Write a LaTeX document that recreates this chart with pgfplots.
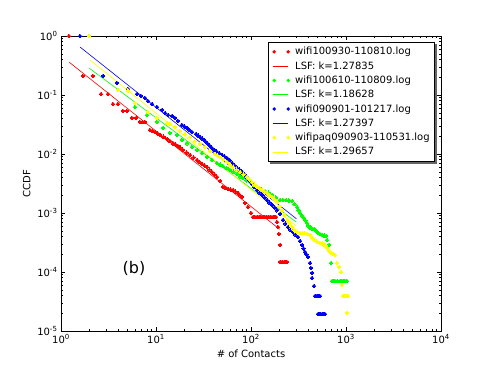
\documentclass[border=0pt]{standalone}
\usepackage{fontspec}
\setmainfont{DejaVu Sans}
\usepackage{pgfplots}
\pgfplotsset{compat=1.18}
\pgfdeclarelayer{background}
\pgfsetlayers{background,main}

\definecolor{cred}{RGB}{255,0,0}
\definecolor{cgreen}{RGB}{0,255,0}
\definecolor{cblue}{RGB}{0,0,255}
\definecolor{cyellow}{RGB}{255,255,0}

\pgfplotsset{
  dots/.style={only marks, mark=*, mark size=1.9pt, color=#1,
    mark options={draw=#1, fill=#1, line width=0pt},
    legend image code/.code={
      \fill[#1, draw=none] (3pt,0pt) circle[radius=1.9pt] (17pt,0pt) circle[radius=1.9pt];
      \path[draw=none] (0pt,0pt) (22pt,0pt);}},
  fit/.style={no marks, color=#1, line width=0.6pt,
    legend image code/.code={
      \draw[#1, line width=0.6pt] (2pt,0pt) -- (17pt,0pt);
      \path[draw=none] (0pt,0pt) (22pt,0pt);}},
}

\begin{document}
\begin{tikzpicture}
\path[use as bounding box] (-61pt,-37pt) rectangle (430pt,331pt);
\begin{axis}[
    xmode=log, ymode=log,
    scale only axis,
    width=380pt, height=295pt,
    xmin=1, xmax=1e4, ymin=1e-5, ymax=1,
    xtick={1,10,100,1000,10000},
    xticklabels={10\textsuperscript{0},10\textsuperscript{1},10\textsuperscript{2},10\textsuperscript{3},10\textsuperscript{4}},
    ytick={1e-5,1e-4,1e-3,1e-2,1e-1,1},
    yticklabels={10\textsuperscript{-5},10\textsuperscript{-4},10\textsuperscript{-3},10\textsuperscript{-2},10\textsuperscript{-1},10\textsuperscript{0}},
    tick align=inside,
    major tick length=4pt, minor tick length=2pt,
    tick style={black, line width=0.5pt},
    axis line style={line width=0.8pt},
    ticklabel style={font=\fontsize{10}{12}\selectfont},
    label style={font=\fontsize{10}{12}\selectfont},
    xlabel={\# of Contacts},
    ylabel={CCDF},
    legend cell align=left,
    legend style={at={(rel axis cs:1,1)}, anchor=north east, xshift=-6pt, yshift=-6pt,
      name=leg, draw=black, line width=0.6pt, fill=white,
      font=\fontsize{10}{12}\selectfont, row sep=1.2pt, inner xsep=3pt, inner ysep=3pt},
]
% wifi100930-110810
\addplot[dots=cred] coordinates {
(1.214,1.0) (1.704,0.210) (2.172,0.210) (2.637,0.104) (3.124,0.104)
(3.527,0.0704) (3.981,0.0704) (4.494,0.0536) (4.951,0.0536) (5.589,0.0408)
(6.160,0.0408) (6.783,0.0349) (7.2,0.0349) (7.658,0.0349) (8.645,0.0255) (9.2,0.0245) (9.761,0.0236)
(10.4,0.0222) (11.02,0.0210) (12.0,0.0195) (13.06,0.0180) (14.0,0.0166) (15.10,0.0153) (16.0,0.0145) (17.04,0.0137) (18.1,0.0127) (19.24,0.0117)
(21.0,0.0106) (22.80,0.0096) (24.8,0.0087) (27.02,0.0079) (28.7,0.0073) (30.50,0.00677) (32.4,0.0064) (34.43,0.00602) (36.6,0.0054) (38.86,0.00495)
(41.3,0.0045) (43.86,0.00407) (47.18,0.00349) (50.73,0.00276) (54.0,0.00265) (57.28,0.00255) (61.0,0.0025) (64.66,0.00245)
(68.7,0.0023) (72.99,0.00218) (76.6,0.0020) (80.41,0.00187) (86.46,0.00148) (92.98,0.00126) (100,0.00100)
(105.0,0.000855) (110.0,0.000855) (115.7,0.000855) (121.5,0.000855) (127.4,0.000855) (134.0,0.000855) (140.4,0.000855) (147.0,0.000855) (154.7,0.000855)
(162.0,0.000855) (170.5,0.000855) (177.0,0.000855) (183.3,0.000855) (187.8,0.000704) (192.4,0.000579) (197.1,0.000441)
(202.0,0.000287) (202.0,0.000148) (212.0,0.000148) (222.6,0.000148) (231.0,0.000148) (239.3,0.000148)
};
\addplot[fit=cred] coordinates {(1.214,0.362) (200,5.31e-4)};
% wifi100610-110809
\addplot[dots=cgreen] coordinates {
(1.971,1.0) (3.981,0.1216) (6.008,0.0626) (8.041,0.0458) (10.24,0.0349)
(11.85,0.0276) (14.04,0.0227) (16.64,0.0210) (18.78,0.0173) (21.20,0.0153)
(23.93,0.0131) (27.02,0.0117) (30.50,0.0104) (34.43,0.0089) (38.86,0.0079)
(43.86,0.00703) (47.2,0.0066) (50.73,0.00626) (55.2,0.0058) (60.11,0.00536) (65.4,0.0050) (71.24,0.00458) (76.6,0.0042) (82.37,0.00392)
(89.7,0.0036) (97.61,0.00335) (106.3,0.0030) (115.7,0.00276) (127.5,0.00255) (140.4,0.00236) (153.0,0.0022) (166.4,0.00202) (183.0,0.00183) (202.0,0.00166)
(217.0,0.00166) (233.6,0.00166) (251.0,0.00163) (270.2,0.00160) (287.0,0.00142) (305.0,0.00126) (316.0,0.00112) (328.0,0.00100) (344.0,0.00091) (361.3,0.000822)
(374.0,0.00075) (388.6,0.000677) (402.0,0.00061) (417.9,0.000557) (438.0,0.000546) (460.5,0.000536) (483.0,0.0005) (507.4,0.000458) (532.0,0.00044) (559.0,0.000424)
(587.0,0.000415) (616.0,0.000408) (631.0,0.000348) (662.5,0.000287) (695.3,0.000142) (712.4,0.0000703)
(740.0,0.0000703) (765.8,0.0000703) (815.0,0.0000703) (864.8,0.0000703) (897.0,0.0000703) (930.0,0.0000703) (976.0,0.0000703) (1024.5,0.0000703)
};
\addplot[fit=cgreen] coordinates {(1.971,0.287) (300,7.0e-4)};
% wifi090901-101217
\addplot[dots=cblue] coordinates {
(1.585,1.0) (2.768,0.210) (3.886,0.160) (5.073,0.126) (6.310,0.104)
(6.952,0.0962) (7.658,0.0889) (8.236,0.0791) (9.077,0.0704) (10.24,0.0626)
(11.57,0.0557) (12.44,0.0495) (13.38,0.0458) (14.74,0.0441) (15.85,0.0408)
(17.04,0.0363) (18.78,0.0310) (20.0,0.0292) (21.20,0.0276) (22.5,0.0255) (23.93,0.0236) (26.37,0.0218)
(27.7,0.0205) (29.06,0.0194) (30.5,0.0183) (32.02,0.0173) (33.6,0.0160) (35.27,0.0148) (37.0,0.0137) (38.86,0.0126) (41.3,0.0117) (43.86,0.0108)
(46.6,0.0102) (49.52,0.0096) (52.6,0.0091) (55.89,0.00855) (59.4,0.0078) (63.10,0.00703) (67.0,0.0064) (71.24,0.00579) (75.7,0.0054) (80.41,0.00495)
(85.4,0.0045) (90.77,0.00407) (96.4,0.0036) (102.4,0.00310) (108.9,0.00275) (115.7,0.00245) (123.0,0.0022) (130.6,0.00202) (138.7,0.00183) (147.4,0.00166)
(156.6,0.0015) (166.4,0.00137) (176.8,0.00124) (187.8,0.00112) (202.0,0.000962) (217.2,0.000761) (230.0,0.00066) (245.2,0.000579)
(261.0,0.00052) (276.8,0.000476) (294.0,0.00043) (312.4,0.000392) (328.0,0.000335) (344.3,0.000287) (357.0,0.00025) (370.2,0.000218)
(384.0,0.000198) (398.1,0.000180) (417.9,0.000142) (428.1,0.000117) (438.7,0.0000962) (438.7,0.0000791)
(460.5,0.0000579) (471.8,0.0000392) (483.0,0.0000392) (495.2,0.0000392) (513.0,0.0000392) (532.5,0.0000392)
(507.4,0.0000194) (520.0,0.0000194) (533.0,0.0000194) (559.0,0.0000194) (580.0,0.0000194) (601.0,0.0000194)
};
\addplot[fit=cblue] coordinates {(1.585,0.651) (300,8.0e-4)};
% wifipaq090903-110531
\addplot[dots=cyellow] coordinates {
(1.971,1.0) (3.981,0.1216) (5.073,0.120) (6.008,0.0732) (8.236,0.0515)
(10.24,0.0408) (13.06,0.0335) (14.04,0.0322) (15.85,0.0287) (17.89,0.0245)
(20.20,0.0218) (22.80,0.0194) (25.74,0.0166) (29.06,0.0148) (32.80,0.0131)
(37.02,0.01125) (41.80,0.0100) (44.4,0.0094) (47.18,0.0089) (51.3,0.0081) (55.89,0.00732) (60.1,0.0066) (64.66,0.00602)
(70.4,0.0054) (76.61,0.00495) (83.4,0.0045) (90.77,0.00407) (96.4,0.0037) (102.4,0.00335) (108.9,0.0030) (115.7,0.00276) (123.0,0.0026) (130.6,0.00245)
(138.7,0.0023) (147.4,0.00218) (156.6,0.002) (166.4,0.00187) (176.8,0.0017) (187.8,0.00154) (199.5,0.0013) (212.0,0.00112) (225.0,0.00092) (239.3,0.000761)
(251.0,0.00068) (263.8,0.000602) (277.0,0.00055) (290.6,0.000495) (309.0,0.00047) (328.0,0.000458) (348.0,0.000458) (370.2,0.000458) (393.0,0.00044) (417.9,0.000424)
(438.0,0.00038) (460.5,0.000348) (495.0,0.00033) (532.5,0.000310) (559.0,0.000304) (586.6,0.000298) (608.0,0.00028) (631.0,0.000255) (662.0,0.00023) (695.3,0.000210)
(730.0,0.000202) (765.8,0.000194) (804.0,0.000142) (844.0,0.000122) (886.2,0.000100) (907.8,0.0000602)
(930.0,0.0000392) (953.0,0.0000392) (976.1,0.0000392) (1012.0,0.0000392) (1049.8,0.0000392) (1024.5,0.0000202)
};
\addplot[fit=cyellow] coordinates {(2.020,0.392) (300,6.0e-4)};
\legend{wifi100930-110810.log, LSF: k=1.27835, wifi100610-110809.log, LSF: k=1.18628,
  wifi090901-101217.log, LSF: k=1.27397, wifipaq090903-110531.log, LSF: k=1.29657}
\node[font=\fontsize{16}{19}\selectfont] at (axis cs:5.87,1.17e-4) {(b)};
\end{axis}
\begin{pgfonlayer}{background}
\fill[black!60] ([xshift=2pt,yshift=-2pt]leg.south west) rectangle ([xshift=2pt,yshift=-2pt]leg.north east);
\end{pgfonlayer}
\end{tikzpicture}
\end{document}
